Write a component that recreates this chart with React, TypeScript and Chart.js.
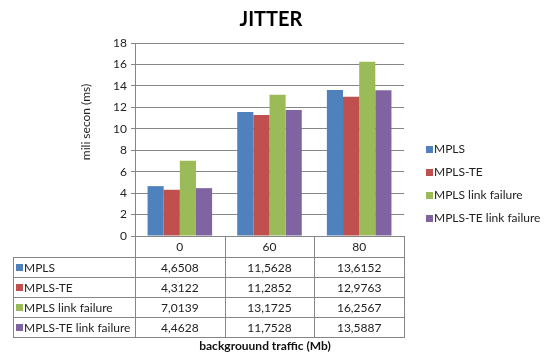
import React, { useEffect, useRef } from "react";
import { Chart, registerables } from "chart.js";

Chart.register(...registerables);

const categories = ["0", "60", "80"];
const seriesNames = ["MPLS", "MPLS-TE", "MPLS link failure", "MPLS-TE link failure"];
const mpls = [4.6508, 11.5628, 13.6152];
const mplsTe = [4.3122, 11.2852, 12.9763];
const mplsLinkFailure = [7.0139, 13.1725, 16.2567];
const mplsTeLinkFailure = [4.4628, 11.7528, 13.5887];
const seriesColors = ["#4F81BD", "#C0504D", "#9BBB59", "#8064A2"];
const yTicks = [0, 2, 4, 6, 8, 10, 12, 14, 16, 18];
const titleText = "JITTER";
const yTitle = "mili secon (ms)";
const xTitle = "backgrouund traffic (Mb)";

const FONT = "Lato, 'Open Sans', sans-serif";

const fmt = (v: number) => v.toFixed(4).replace(".", ",");

const decorPlugin = {
  id: "decor",
  afterDraw(chart: any) {
    const ctx = chart.ctx as CanvasRenderingContext2D;
    const area = chart.chartArea;
    const left = area.left;
    const right = area.right;
    const catW = (right - left) / categories.length;
    const top = area.bottom;
    const headerH = 21;
    const rowH = 20;
    const tableLeft = 13;
    const tableTop = top + headerH;
    const tableBottom = tableTop + rowH * seriesNames.length;
    const allSeries = [mpls, mplsTe, mplsLinkFailure, mplsTeLinkFailure];

    ctx.save();
    // Title
    ctx.fillStyle = "#000";
    ctx.font = `bold 20px ${FONT}`;
    ctx.textAlign = "center";
    ctx.textBaseline = "middle";
    ctx.fillText(titleText, 271, 20);

    // Y title
    ctx.save();
    ctx.translate(86, 122);
    ctx.rotate(-Math.PI / 2);
    ctx.font = `12px ${FONT}`;
    ctx.fillStyle = "#222";
    ctx.fillText(yTitle, 0, 0);
    ctx.restore();

    // Table lines
    ctx.strokeStyle = "#868686";
    ctx.lineWidth = 1;
    ctx.beginPath();
    // verticals in header row and table
    for (let i = 0; i <= categories.length; i++) {
      const x = Math.round(left + i * catW) + 0.5;
      ctx.moveTo(x, top);
      ctx.lineTo(x, tableBottom);
    }
    ctx.moveTo(tableLeft + 0.5, tableTop);
    ctx.lineTo(tableLeft + 0.5, tableBottom);
    for (let r = 0; r <= seriesNames.length; r++) {
      const y = Math.round(tableTop + r * rowH) + 0.5;
      ctx.moveTo(tableLeft, y);
      ctx.lineTo(right + 1, y);
    }
    ctx.stroke();

    // Header labels
    ctx.font = `12px ${FONT}`;
    ctx.fillStyle = "#222";
    ctx.textAlign = "center";
    categories.forEach((c, i) => {
      ctx.fillText(c, left + (i + 0.5) * catW, top + headerH / 2 + 1);
    });

    // Rows
    seriesNames.forEach((name, r) => {
      const cy = tableTop + r * rowH + rowH / 2 + 1;
      ctx.fillStyle = seriesColors[r];
      ctx.fillRect(16, cy - 4, 7, 7);
      ctx.fillStyle = "#222";
      ctx.textAlign = "left";
      ctx.fillText(name, 24, cy);
      ctx.textAlign = "center";
      allSeries[r].forEach((v, i) => {
        ctx.fillText(fmt(v), left + (i + 0.5) * catW, cy);
      });
    });

    // X title
    ctx.font = `bold 12px ${FONT}`;
    ctx.fillStyle = "#111";
    ctx.textAlign = "center";
    ctx.fillText(xTitle, 265, 346);

    // Legend
    ctx.font = `12px ${FONT}`;
    ctx.textAlign = "left";
    seriesNames.forEach((name, i) => {
      const cy = 149 + i * 23;
      ctx.fillStyle = seriesColors[i];
      ctx.fillRect(426, cy - 3, 7, 7);
      ctx.fillStyle = "#222";
      ctx.fillText(name, 434, cy);
    });
    ctx.restore();
  },
};

export default function App() {
  const ref = useRef<HTMLCanvasElement | null>(null);
  useEffect(() => {
    if (!ref.current) return;
    const allSeries = [mpls, mplsTe, mplsLinkFailure, mplsTeLinkFailure];
    const chart = new Chart(ref.current, {
      type: "bar",
      data: {
        labels: categories,
        datasets: seriesNames.map((name, i) => ({
          label: name,
          data: allSeries[i],
          backgroundColor: seriesColors[i],
          borderWidth: 0,
          categoryPercentage: 0.72,
          barPercentage: 1,
        })),
      },
      options: {
        animation: false,
        responsive: false,
        maintainAspectRatio: false,
        layout: { padding: { left: 0, right: 141, top: 43, bottom: 0 } },
        plugins: {
          legend: { display: false },
          title: { display: false },
          tooltip: { enabled: false },
        },
        scales: {
          x: {
            display: true,
            grid: { display: false },
            border: { display: false },
            ticks: { display: false },
            afterFit: (s: any) => {
              s.height = 117;
            },
          },
          y: {
            min: 0,
            max: 18,
            afterFit: (s: any) => {
              s.width = 135;
            },
            afterBuildTicks: (s: any) => {
              s.ticks = yTicks.map((v) => ({ value: v }));
            },
            grid: { color: "#868686", tickLength: 4, drawTicks: true },
            border: { display: true, color: "#868686" },
            ticks: {
              padding: 4,
              color: "#222",
              font: { family: FONT, size: 12 },
            },
          },
        },
      },
      plugins: [decorPlugin],
    });
    return () => chart.destroy();
  }, []);
  return (
    <div style={{ position: "fixed", left: 0, top: 0, width: 545, height: 353, background: "#fff" }}>
      <canvas ref={ref} width={545} height={353} style={{ width: 545, height: 353 }} />
    </div>
  );
}
